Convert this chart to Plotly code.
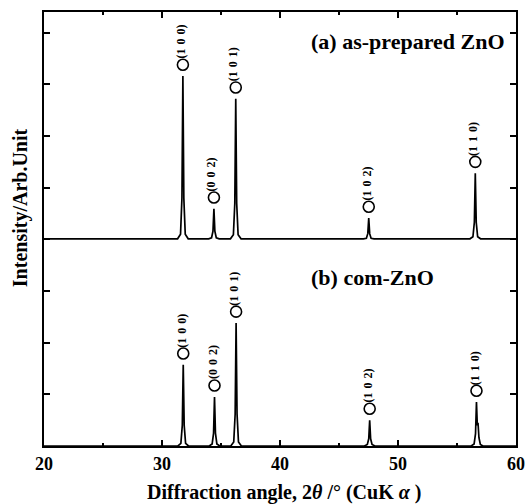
import plotly.graph_objects as go

# ---- data ----
# (a) as-prepared ZnO, intensity above its own baseline
a_angle = [20.0,
           31.32, 31.57, 31.69, 31.77, 31.85, 31.97, 32.22,
           33.95, 34.20, 34.32, 34.40, 34.48, 34.60, 34.85,
           35.80, 36.05, 36.17, 36.25, 36.33, 36.45, 36.70,
           47.07, 47.32, 47.44, 47.52, 47.60, 47.72, 47.97,
           56.10, 56.35, 56.47, 56.55, 56.63, 56.75, 57.00,
           60.0]
a_int = [0.01,
         0.01, 0.10, 0.80, 3.16, 0.80, 0.10, 0.01,
         0.01, 0.03, 0.16, 0.59, 0.16, 0.03, 0.01,
         0.01, 0.09, 0.70, 2.72, 0.70, 0.09, 0.01,
         0.01, 0.02, 0.11, 0.41, 0.11, 0.02, 0.01,
         0.01, 0.05, 0.33, 1.28, 0.33, 0.05, 0.01,
         0.01]

# (b) com-ZnO
b_angle = [20.0,
           31.35, 31.60, 31.72, 31.80, 31.88, 32.00, 32.25,
           34.00, 34.25, 34.37, 34.45, 34.53, 34.65, 34.90,
           35.83, 36.08, 36.20, 36.28, 36.36, 36.48, 36.73,
           47.15, 47.40, 47.52, 47.60, 47.68, 47.80, 48.05,
           56.20, 56.45, 56.57, 56.65, 56.72, 56.78, 56.86, 56.98, 57.20,
           60.0]
b_int = [0.0,
         0.0, 0.05, 0.40, 1.57, 0.40, 0.05, 0.0,
         0.0, 0.04, 0.25, 0.95, 0.25, 0.04, 0.0,
         0.0, 0.08, 0.62, 2.38, 0.62, 0.08, 0.0,
         0.0, 0.03, 0.14, 0.50, 0.14, 0.03, 0.0,
         0.0, 0.04, 0.24, 0.85, 0.40, 0.45, 0.16, 0.03, 0.0,
         0.0]

hkl = ["(1 0 0)", "(0 0 2)", "(1 0 1)", "(1 0 2)", "(1 1 0)"]
a_peak_pos = [31.77, 34.40, 36.25, 47.52, 56.55]
a_peak_h = [3.16, 0.59, 2.72, 0.41, 1.28]
b_peak_pos = [31.80, 34.45, 36.28, 47.60, 56.65]
b_peak_h = [1.57, 0.95, 2.38, 0.50, 0.85]

a_offset = 4.0
x_ticks = [20, 30, 40, 50, 60]

FONT = "Liberation Serif"
fig = go.Figure()

fig.add_trace(go.Scatter(x=a_angle, y=[v + a_offset for v in a_int], mode="lines",
                         line=dict(color="black", width=1.7),
                         hoverinfo="skip", showlegend=False))
fig.add_trace(go.Scatter(x=b_angle, y=b_int, mode="lines",
                         line=dict(color="black", width=1.7),
                         hoverinfo="skip", showlegend=False))

circ_off = 0.22
cx = a_peak_pos + b_peak_pos
cy = [h + a_offset + circ_off for h in a_peak_h] + [h + circ_off for h in b_peak_h]
fig.add_trace(go.Scatter(x=cx, y=cy, mode="markers",
                         marker=dict(symbol="circle-open", size=11,
                                     color="black", line=dict(width=1.6)),
                         hoverinfo="skip", showlegend=False))

for x, y, t in zip(cx, cy, hkl + hkl):
    fig.add_annotation(x=x, y=y, text="<b>" + t.replace(" ", "\u2004") + "</b>",
                       showarrow=False, textangle=-90,
                       xanchor="center", yanchor="bottom", yshift=5, xshift=-2,
                       borderpad=0,
                       font=dict(family=FONT, size=12, color="black"))

fig.add_annotation(x=59.25, y=7.82, text="<b>(a) as-prepared ZnO</b>", showarrow=False,
                   xanchor="right", yanchor="middle",
                   font=dict(family=FONT, size=22, color="black"))
fig.add_annotation(x=53.25, y=3.27, text="<b>(b) com-ZnO</b>", showarrow=False,
                   xanchor="right", yanchor="middle",
                   font=dict(family=FONT, size=22, color="black"))

# axis titles
fig.add_annotation(xref="paper", yref="paper", x=0.508, y=-0.106,
                   text="<b>Diffraction angle, 2<i>θ</i> /° (CuK <i>α</i> )</b>",
                   showarrow=False, xanchor="center", yanchor="middle",
                   font=dict(family=FONT, size=20, color="black"))
fig.add_annotation(xref="paper", yref="paper", x=0, xshift=-24, y=0.548,
                   text="<b>Intensity/Arb.Unit</b>", textangle=-90,
                   showarrow=False, xanchor="center", yanchor="middle",
                   font=dict(family=FONT, size=20, color="black"))

fig.update_layout(
    width=532, height=504,
    margin=dict(l=44, r=7, t=12, b=58),
    paper_bgcolor="white", plot_bgcolor="white",
    font=dict(family=FONT, color="black"),
    xaxis=dict(range=[20, 60], tickvals=x_ticks, ticktext=[f"<b>{v}</b>" for v in x_ticks],
               ticks="inside", ticklen=6, tickwidth=1.5, tickcolor="black",
               minor=dict(dtick=5, ticks="inside", ticklen=3, tickwidth=1.5, tickcolor="black"),
               showline=True, linewidth=2, linecolor="black", mirror="ticks",
               showgrid=False, zeroline=False,
               tickfont=dict(family=FONT, size=18, color="black")),
    yaxis=dict(range=[0, 8.4], tickvals=[0, 1, 2, 3, 4, 5, 6, 7, 8], showticklabels=False,
               ticks="inside", ticklen=6, tickwidth=1.5, tickcolor="black",
               showline=True, linewidth=2, linecolor="black", mirror="ticks",
               showgrid=False, zeroline=False),
)

fig.write_html("out.html")
